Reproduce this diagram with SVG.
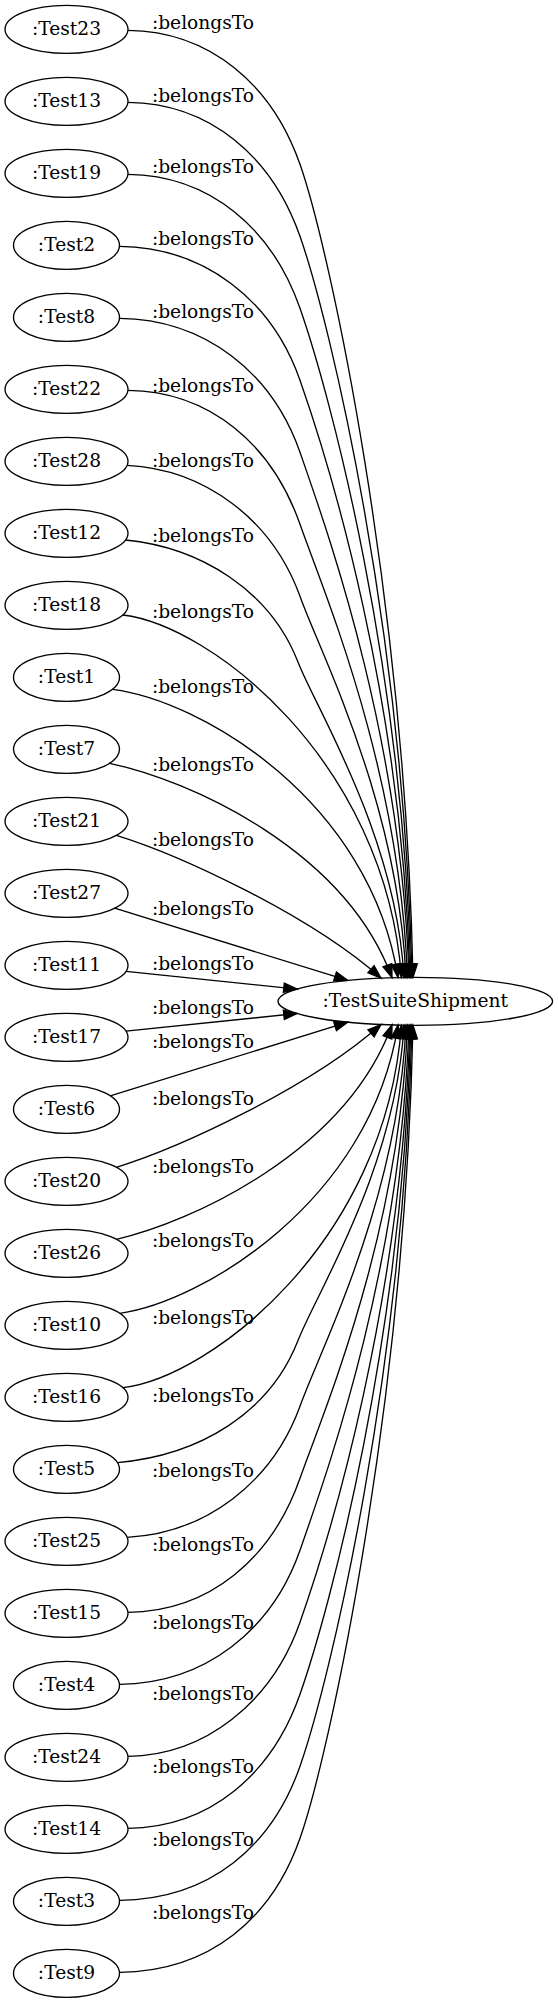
<svg xmlns="http://www.w3.org/2000/svg" width="558" height="2003" viewBox="0 0 558 2003">
<style>
.n ellipse{fill:none;stroke:#000;stroke-width:1.33}
text{font-family:"DejaVu Serif","Liberation Serif",serif;font-size:18.67px;fill:#000;text-anchor:middle}
.e path{fill:none;stroke:#000;stroke-width:1.33;marker-end:url(#ah)}
</style>
<defs>
<marker id="ah" markerUnits="userSpaceOnUse" markerWidth="16" markerHeight="12" refX="13.33" refY="4.67" orient="auto" overflow="visible">
<path d="M0,0 L13.33,4.67 L0,9.33 z" fill="#000" stroke="#000" stroke-width="1.33"/>
</marker>
</defs>
<rect width="558" height="2003" fill="#fff"/>
<g id="connectors" class="e">
<g><path d="M127.9,30.3 C210,31.3 272,84.3 300,164.3 C330,250 405,600 413,977.3"/><text x="203" y="29.3">:belongsTo</text></g>
<g><path d="M127.9,102.3 C210,103.3 272,156.3 300,236.3 C330,322 404,633.5 412,977.3"/><text x="203" y="101.7">:belongsTo</text></g>
<g><path d="M127.9,174.3 C210,175.3 272,228.3 300,308.3 C330,394 403,666.9 411,977.3"/><text x="203" y="173.3">:belongsTo</text></g>
<g><path d="M119.5,246.3 C205,247.3 272,300.3 300,380.3 C330,466 402,700.3 410,977.3"/><text x="203" y="245.3">:belongsTo</text></g>
<g><path d="M119.5,318.3 C205,319.3 272,372.3 300,452.3 C326,527.3 401,733.7 409,977.3"/><text x="203" y="318">:belongsTo</text></g>
<g><path d="M127.9,390.3 C210,391.3 272,444.3 300,524.3 C322.7,589 399.5,767.1 407.5,977.3"/><text x="203" y="391.7">:belongsTo</text></g>
<g><path d="M127.1,465.3 C205,469.3 272,519.3 300,596.3 C319,650.7 398,800.5 406,977.4"/><text x="203" y="466.7">:belongsTo</text></g>
<g><path d="M125.5,540 C200,547.3 270,590 298,662 C314,705 396,833.9 404,977.4"/><text x="203" y="541.7">:belongsTo</text></g>
<g><path d="M122.8,615 C210,625 385,760 401.5,977.4"/><text x="203" y="617.7">:belongsTo</text></g>
<g><path d="M112.4,689.3 C200,700 370,800 398,977.5"/><text x="203" y="693">:belongsTo</text></g>
<g><path d="M109.5,763.3 C190,780 345,850 392,977.7"/><text x="203" y="770.9">:belongsTo</text></g>
<g><path d="M116.4,835.3 C180,855 310,915 381,978.1"/><text x="203" y="846.2">:belongsTo</text></g>
<g><path d="M114.7,908.2 L347.8,980.4"/><text x="203" y="915.2">:belongsTo</text></g>
<g><path d="M126,971.4 L297.1,989.1"/><text x="203" y="970.1">:belongsTo</text></g>
<g><path d="M126,1031.2 L297.1,1013.5"/><text x="203" y="1013.5">:belongsTo</text></g>
<g><path d="M110.2,1095.8 L347.8,1022.2"/><text x="203" y="1048">:belongsTo</text></g>
<g><path d="M116.4,1167.3 C180,1147.6 310,1087.6 381,1024.5"/><text x="203" y="1105.4">:belongsTo</text></g>
<g><path d="M116.4,1239.3 C190,1222.6 345,1152.6 392,1024.9"/><text x="203" y="1173.1">:belongsTo</text></g>
<g><path d="M119.8,1313.3 C200,1302.6 370,1202.6 398,1025.1"/><text x="203" y="1247.1">:belongsTo</text></g>
<g><path d="M122.8,1387.6 C210,1377.6 385,1242.6 401.5,1025.2"/><text x="203" y="1323.8">:belongsTo</text></g>
<g><path d="M117.4,1462.6 C200,1455.3 270,1412.6 298,1340.6 C314,1297.6 396,1168.7 404,1025.2"/><text x="203" y="1401.7">:belongsTo</text></g>
<g><path d="M127.1,1537.3 C205,1533.3 272,1483.3 300,1406.3 C319,1351.9 398,1202.1 406,1025.2"/><text x="203" y="1477">:belongsTo</text></g>
<g><path d="M127.9,1612.3 C210,1611.3 272,1558.3 300,1478.3 C322.7,1413.6 399.5,1235.5 407.5,1025.3"/><text x="203" y="1551">:belongsTo</text></g>
<g><path d="M119.5,1684.3 C205,1683.3 272,1630.3 300,1550.3 C326,1475.3 401,1268.9 409,1025.3"/><text x="203" y="1629">:belongsTo</text></g>
<g><path d="M127.9,1756.3 C205,1755.3 272,1702.3 300,1622.3 C330,1536.6 402,1302.3 410,1025.3"/><text x="203" y="1700.4">:belongsTo</text></g>
<g><path d="M127.9,1828.3 C210,1827.3 272,1774.3 300,1694.3 C330,1608.6 403,1335.7 411,1025.3"/><text x="203" y="1773.2">:belongsTo</text></g>
<g><path d="M119.5,1900.3 C210,1899.3 272,1846.3 300,1766.3 C330,1680.6 404,1369.1 412,1025.3"/><text x="203" y="1846">:belongsTo</text></g>
<g><path d="M119.5,1972.3 C210,1971.3 272,1918.3 300,1838.3 C330,1752.6 405,1402.6 413,1025.3"/><text x="203" y="1918.5">:belongsTo</text></g>
</g>
<g id="TestSuiteShipment" class="n"><ellipse cx="415.3" cy="1001.3" rx="137.3" ry="24"/><text x="415.3" y="1007.3">:TestSuiteShipment</text></g>
<g id="Test23" class="n"><ellipse cx="66.5" cy="29.3" rx="61.5" ry="24"/><text x="66.5" y="35.3">:Test23</text></g>
<g id="Test13" class="n"><ellipse cx="66.5" cy="101.3" rx="61.5" ry="24"/><text x="66.5" y="107.3">:Test13</text></g>
<g id="Test19" class="n"><ellipse cx="66.5" cy="173.3" rx="61.5" ry="24"/><text x="66.5" y="179.3">:Test19</text></g>
<g id="Test2" class="n"><ellipse cx="66.5" cy="245.3" rx="53" ry="24"/><text x="66.5" y="251.3">:Test2</text></g>
<g id="Test8" class="n"><ellipse cx="66.5" cy="317.3" rx="53" ry="24"/><text x="66.5" y="323.3">:Test8</text></g>
<g id="Test22" class="n"><ellipse cx="66.5" cy="389.3" rx="61.5" ry="24"/><text x="66.5" y="395.3">:Test22</text></g>
<g id="Test28" class="n"><ellipse cx="66.5" cy="461.3" rx="61.5" ry="24"/><text x="66.5" y="467.3">:Test28</text></g>
<g id="Test12" class="n"><ellipse cx="66.5" cy="533.3" rx="61.5" ry="24"/><text x="66.5" y="539.3">:Test12</text></g>
<g id="Test18" class="n"><ellipse cx="66.5" cy="605.3" rx="61.5" ry="24"/><text x="66.5" y="611.3">:Test18</text></g>
<g id="Test1" class="n"><ellipse cx="66.5" cy="677.3" rx="53" ry="24"/><text x="66.5" y="683.3">:Test1</text></g>
<g id="Test7" class="n"><ellipse cx="66.5" cy="749.3" rx="53" ry="24"/><text x="66.5" y="755.3">:Test7</text></g>
<g id="Test21" class="n"><ellipse cx="66.5" cy="821.3" rx="61.5" ry="24"/><text x="66.5" y="827.3">:Test21</text></g>
<g id="Test27" class="n"><ellipse cx="66.5" cy="893.3" rx="61.5" ry="24"/><text x="66.5" y="899.3">:Test27</text></g>
<g id="Test11" class="n"><ellipse cx="66.5" cy="965.3" rx="61.5" ry="24"/><text x="66.5" y="971.3">:Test11</text></g>
<g id="Test17" class="n"><ellipse cx="66.5" cy="1037.3" rx="61.5" ry="24"/><text x="66.5" y="1043.3">:Test17</text></g>
<g id="Test6" class="n"><ellipse cx="66.5" cy="1109.3" rx="53" ry="24"/><text x="66.5" y="1115.3">:Test6</text></g>
<g id="Test20" class="n"><ellipse cx="66.5" cy="1181.3" rx="61.5" ry="24"/><text x="66.5" y="1187.3">:Test20</text></g>
<g id="Test26" class="n"><ellipse cx="66.5" cy="1253.3" rx="61.5" ry="24"/><text x="66.5" y="1259.3">:Test26</text></g>
<g id="Test10" class="n"><ellipse cx="66.5" cy="1325.3" rx="61.5" ry="24"/><text x="66.5" y="1331.3">:Test10</text></g>
<g id="Test16" class="n"><ellipse cx="66.5" cy="1397.3" rx="61.5" ry="24"/><text x="66.5" y="1403.3">:Test16</text></g>
<g id="Test5" class="n"><ellipse cx="66.5" cy="1469.3" rx="53" ry="24"/><text x="66.5" y="1475.3">:Test5</text></g>
<g id="Test25" class="n"><ellipse cx="66.5" cy="1541.3" rx="61.5" ry="24"/><text x="66.5" y="1547.3">:Test25</text></g>
<g id="Test15" class="n"><ellipse cx="66.5" cy="1613.3" rx="61.5" ry="24"/><text x="66.5" y="1619.3">:Test15</text></g>
<g id="Test4" class="n"><ellipse cx="66.5" cy="1685.3" rx="53" ry="24"/><text x="66.5" y="1691.3">:Test4</text></g>
<g id="Test24" class="n"><ellipse cx="66.5" cy="1757.3" rx="61.5" ry="24"/><text x="66.5" y="1763.3">:Test24</text></g>
<g id="Test14" class="n"><ellipse cx="66.5" cy="1829.3" rx="61.5" ry="24"/><text x="66.5" y="1835.3">:Test14</text></g>
<g id="Test3" class="n"><ellipse cx="66.5" cy="1901.3" rx="53" ry="24"/><text x="66.5" y="1907.3">:Test3</text></g>
<g id="Test9" class="n"><ellipse cx="66.5" cy="1973.3" rx="53" ry="24"/><text x="66.5" y="1979.3">:Test9</text></g>
</svg>
